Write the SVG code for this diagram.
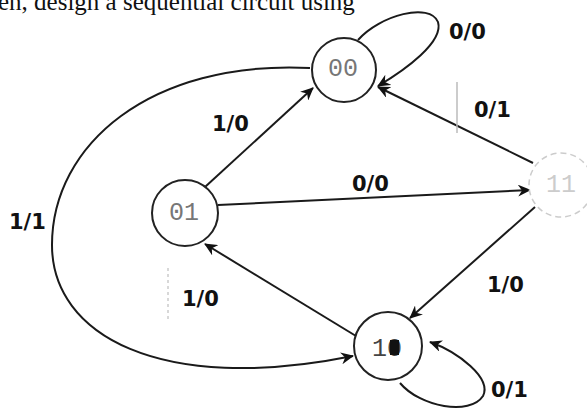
<svg xmlns="http://www.w3.org/2000/svg" width="587" height="412" viewBox="0 0 587 412">
<defs>
<marker id="arr" markerWidth="14" markerHeight="12" refX="12" refY="6" orient="auto" markerUnits="userSpaceOnUse">
<path d="M0,0 L13,6 L0,12 L4,6 Z" fill="#111"/>
</marker>
<style>
.node{fill:#fff;stroke:#222;stroke-width:2}
.edge{fill:none;stroke:#1a1a1a;stroke-width:2;marker-end:url(#arr)}
.lbl{font-family:"DejaVu Sans",sans-serif;font-size:21px;fill:#111;font-weight:bold}
.st{font-family:"Liberation Mono",monospace;font-size:25px;fill:#777;text-anchor:middle}
</style>
</defs>
<rect width="587" height="412" fill="#fff"/>
<text x="-2" y="10" font-family="Liberation Serif,serif" font-size="25" fill="#111">en, design a sequential circuit using</text>
<g id="connectors">
<path class="edge" d="M205,187 L313,88"/>
<path class="edge" d="M533,163 L378,87"/>
<path class="edge" d="M218,205 L530,190"/>
<path class="edge" d="M535,207 L410,318"/>
<path class="edge" d="M356,336 L205,244"/>
<path class="edge" d="M310,68 C150,60 52,145 52,245 C52,335 160,395 353,356"/>
<path class="edge" d="M358,40 C380,15 430,2 438,22 C444,42 405,70 378,86"/>
<path class="edge" d="M400,383 C420,407 470,416 483,396 C492,378 458,352 430,342"/>
<line x1="457" y1="82" x2="457" y2="133" stroke="#bbb" stroke-width="1.5"/>
<line x1="168" y1="268" x2="168" y2="322" stroke="#ccc" stroke-width="1.5" stroke-dasharray="3,3"/>
<text class="lbl" x="212" y="131">1/0</text>
<text class="lbl" x="474" y="117">0/1</text>
<text class="lbl" x="352" y="191">0/0</text>
<text class="lbl" x="487" y="292">1/0</text>
<text class="lbl" x="182" y="306">1/0</text>
<text class="lbl" x="9" y="229">1/1</text>
<text class="lbl" x="449" y="39">0/0</text>
<text class="lbl" x="491" y="397">0/1</text>
</g>
<g id="n00">
<circle class="node" cx="344" cy="70" r="32"/>
<text class="st" x="343" y="76">00</text>
</g>
<g id="n01">
<circle class="node" cx="185" cy="213" r="33"/>
<text class="st" x="184" y="220">01</text>
</g>
<g id="n11">
<circle cx="561" cy="185" r="32" fill="#fff" stroke="#ccc" stroke-width="1.5" stroke-dasharray="6,4"/>
<text class="st" x="561" y="192" style="fill:#ccc">11</text>
</g>
<g id="n10">
<circle class="node" cx="388" cy="346" r="34"/>
<text class="st" x="387" y="356" style="fill:#444">10</text>
<rect x="390" y="340" width="9" height="15" fill="#111"/>
</g>
</svg>
